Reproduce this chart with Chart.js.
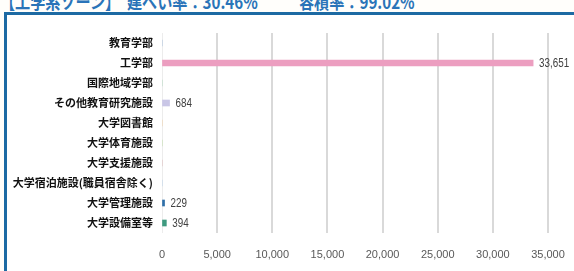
<!DOCTYPE html>
<html>
<head>
<meta charset="utf-8">
<script src="https://cdn.jsdelivr.net/npm/chart.js@4/dist/chart.umd.min.js"></script>
<style>
    html, body { margin: 0; padding: 0; }
    body { width: 574px; height: 271px; overflow: hidden; position: relative; background: #fffefb; }
    .ttl {
        position: absolute; top: -12px; white-space: nowrap;
        font: bold 18px "Noto Sans CJK JP", sans-serif; color: #2a74b8;
        transform: scaleX(0.84); transform-origin: left top;
    }
    #topLine { position: absolute; left: 4px; top: 12px; width: 570px; height: 3px; background: #1d6aa3; }
    #leftLine { position: absolute; left: 4px; top: 12px; width: 3px; height: 259px; background: #1d6aa3; }
    #wrap { position: absolute; left: 7px; top: 15px; width: 567px; height: 256px; background: #fff; }
</style>
</head>
<body>
<div class="ttl" style="left:0px">【工学系ゾーン】</div>
<div class="ttl" style="left:127px">建ぺい率：30.46%</div>
<div class="ttl" style="left:299px">容積率：99.02%</div>
<div id="topLine"></div>
<div id="leftLine"></div>
<div id="wrap"><canvas id="facilityChart"></canvas></div>
<script>
const categories = ['教育学部', '工学部', '国際地域学部', 'その他教育研究施設', '大学図書館', '大学体育施設', '大学支援施設', '大学宿泊施設(職員宿舎除く)', '大学管理施設', '大学設備室等'];
const areas = [0, 33651, 0, 684, 0, 0, 0, 0, 229, 394];
const barColors = ['#8fb0d8', '#ec9ec0', '#9fd0b0', '#c9c6e6', '#f2c48c', '#b0d890', '#d8a8a8', '#a8c8e8', '#2f6fa8', '#3f9a80'];
const xTicks = [0, 5000, 10000, 15000, 20000, 25000, 30000, 35000];

const numFmt = v => v.toLocaleString('en-US');

// value labels next to the bars, squeezed a bit like the original's narrow font
const valueLabels = {
    id: 'valueLabels',
    afterDatasetsDraw(chart) {
        const ctx = chart.ctx;
        const meta = chart.getDatasetMeta(0);
        ctx.save();
        ctx.font = '12px "Liberation Sans Narrow", "Liberation Sans", sans-serif';
        ctx.fillStyle = '#404040';
        ctx.textBaseline = 'middle';
        meta.data.forEach((bar, i) => {
            if (!areas[i]) return;
            const txt = numFmt(areas[i]);
            ctx.fillText(txt, bar.x + 6, bar.y + 1, ctx.measureText(txt).width * 0.82);
        });
        ctx.restore();
    }
};

new Chart(document.getElementById('facilityChart'), {
    type: 'bar',
    data: {
        labels: categories,
        datasets: [{
            data: areas,
            backgroundColor: barColors,
            barThickness: 6
        }]
    },
    plugins: [valueLabels],
    options: {
        indexAxis: 'y',
        responsive: true,
        maintainAspectRatio: false,
        animation: false,
        layout: { padding: { top: 18, right: 26, left: 0, bottom: 0 } },
        plugins: {
            legend: { display: false },
            tooltip: { enabled: false }
        },
        scales: {
            x: {
                min: 0,
                max: 35000,
                afterBuildTicks: scale => { scale.ticks = xTicks.map(v => ({ value: v })); },
                afterFit: scale => {
                    scale.height = 38;
                    scale.paddingLeft = 0;
                    scale.paddingRight = 0;
                },
                border: { display: false },
                grid: {
                    drawTicks: false,
                    color: c => c.index === 0 ? '#ececec' : '#d9d9d9',
                    lineWidth: c => c.index === 0 ? 1 : 2
                },
                ticks: {
                    padding: 15,
                    color: '#595959',
                    font: { family: '"Liberation Sans Narrow", "Liberation Sans", sans-serif', size: 11 },
                    callback: v => numFmt(v)
                }
            },
            y: {
                afterFit: scale => { scale.width = 155; },
                border: { display: false },
                grid: { display: false, drawTicks: false },
                ticks: {
                    padding: 9,
                    color: '#111',
                    font: { family: '"Noto Sans CJK JP", sans-serif', size: 11, weight: 'bold' }
                }
            }
        }
    }
});
</script>
</body>
</html>
